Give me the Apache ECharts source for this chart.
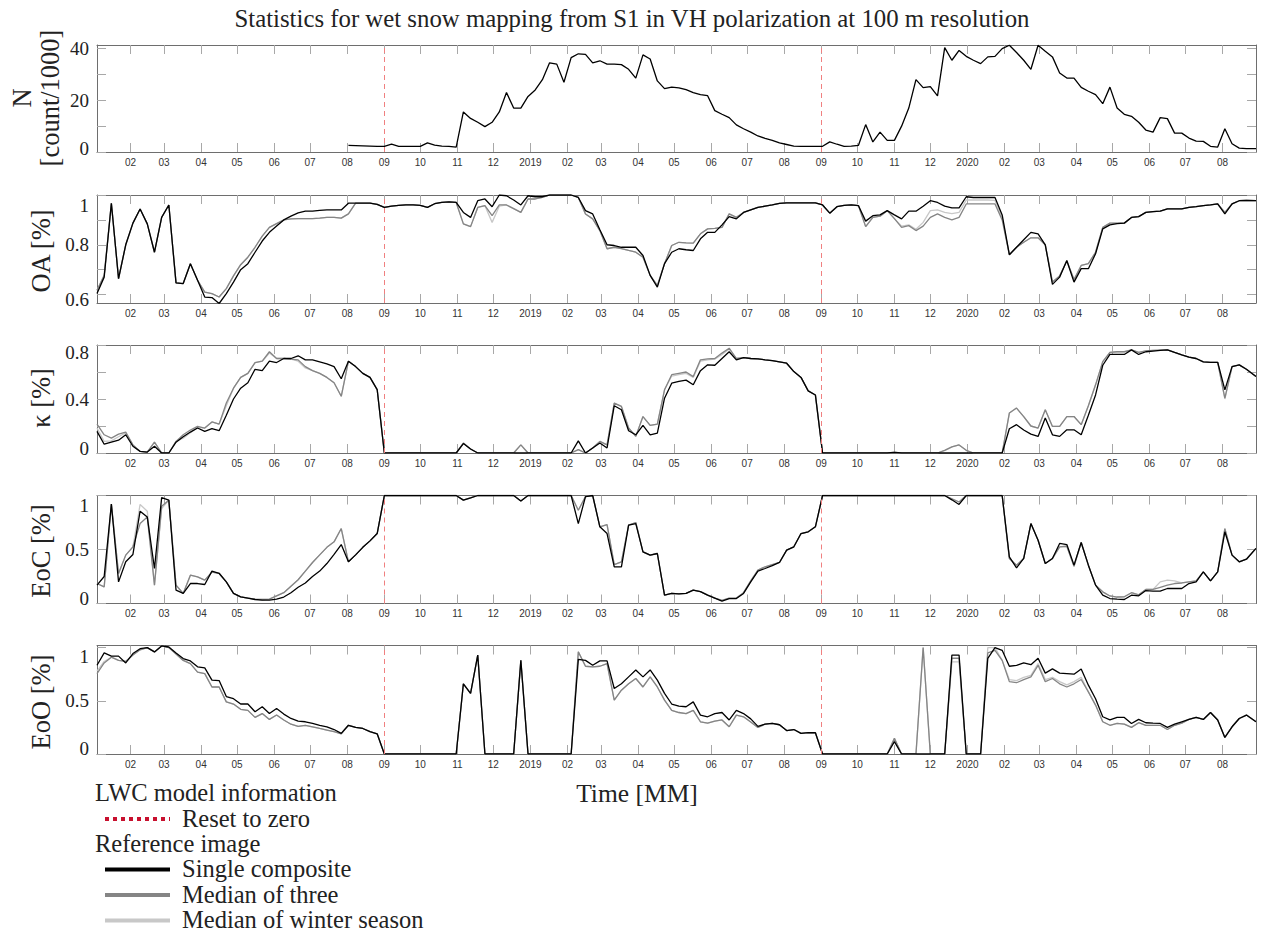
<!DOCTYPE html>
<html><head><meta charset="utf-8">
<script src="https://cdn.jsdelivr.net/npm/echarts@6/dist/echarts.min.js"></script>
<style>html,body{margin:0;padding:0;background:#fff}#c{width:1262px;height:934px}</style>
</head><body><div id="c"></div>
<script>
const dates = [
'2018-01-04','2018-01-10','2018-01-16','2018-01-22','2018-01-28','2018-02-03','2018-02-09','2018-02-15','2018-02-21','2018-02-27',
'2018-03-05','2018-03-11','2018-03-17','2018-03-23','2018-03-29','2018-04-04','2018-04-10','2018-04-16','2018-04-22','2018-04-28',
'2018-05-04','2018-05-10','2018-05-16','2018-05-22','2018-05-28','2018-06-03','2018-06-09','2018-06-15','2018-06-21','2018-06-27',
'2018-07-03','2018-07-09','2018-07-15','2018-07-21','2018-07-27','2018-08-02','2018-08-08','2018-08-14','2018-08-20','2018-08-26',
'2018-09-01','2018-09-07','2018-09-13','2018-09-19','2018-09-25','2018-10-01','2018-10-07','2018-10-13','2018-10-19','2018-10-25',
'2018-10-31','2018-11-06','2018-11-12','2018-11-18','2018-11-24','2018-11-30','2018-12-06','2018-12-12','2018-12-18','2018-12-24',
'2018-12-30','2019-01-05','2019-01-11','2019-01-17','2019-01-23','2019-01-29','2019-02-04','2019-02-10','2019-02-16','2019-02-22',
'2019-02-28','2019-03-06','2019-03-12','2019-03-18','2019-03-24','2019-03-30','2019-04-05','2019-04-11','2019-04-17','2019-04-23',
'2019-04-29','2019-05-05','2019-05-11','2019-05-17','2019-05-23','2019-05-29','2019-06-04','2019-06-10','2019-06-16','2019-06-22',
'2019-06-28','2019-07-04','2019-07-10','2019-07-16','2019-07-22','2019-07-28','2019-08-03','2019-08-09','2019-08-15','2019-08-21',
'2019-08-27','2019-09-02','2019-09-08','2019-09-14','2019-09-20','2019-09-26','2019-10-02','2019-10-08','2019-10-14','2019-10-20',
'2019-10-26','2019-11-01','2019-11-07','2019-11-13','2019-11-19','2019-11-25','2019-12-01','2019-12-07','2019-12-13','2019-12-19',
'2019-12-25','2019-12-31','2020-01-06','2020-01-12','2020-01-18','2020-01-24','2020-01-30','2020-02-05','2020-02-11','2020-02-17',
'2020-02-23','2020-02-29','2020-03-06','2020-03-12','2020-03-18','2020-03-24','2020-03-30','2020-04-05','2020-04-11','2020-04-17',
'2020-04-23','2020-04-29','2020-05-05','2020-05-11','2020-05-17','2020-05-23','2020-05-29','2020-06-04','2020-06-10','2020-06-16',
'2020-06-22','2020-06-28','2020-07-04','2020-07-10','2020-07-16','2020-07-22','2020-07-28','2020-08-03','2020-08-09','2020-08-15',
'2020-08-21','2020-08-29'];

const axisStart = '2018-01-04';
const axisEnd = '2020-08-29';
const monthTicks = [
'2018-02-01','2018-03-01','2018-04-01','2018-05-01','2018-06-01','2018-07-01','2018-08-01','2018-09-01','2018-10-01','2018-11-01','2018-12-01',
'2019-01-01','2019-02-01','2019-03-01','2019-04-01','2019-05-01','2019-06-01','2019-07-01','2019-08-01','2019-09-01','2019-10-01','2019-11-01','2019-12-01',
'2020-01-01','2020-02-01','2020-03-01','2020-04-01','2020-05-01','2020-06-01','2020-07-01','2020-08-01'];
const resetDates = ['2018-09-01','2019-09-01'];

const nCount = [
null,null,null,null,null,null,null,null,null,null,
null,null,null,null,null,null,null,null,null,null,
null,null,null,null,null,null,null,null,null,null,
null,null,null,null,null,2.6,2.5,2.4,2.3,2.2,
2.2,3.0,2.2,2.2,2.2,2.2,3.5,2.7,2.3,2.2,
1.9,15.5,13,11.5,9.8,11.5,15.5,23,17,17,
21.5,24,28,34.5,34,27,36.5,38,37.8,34.5,
35.3,34,34,33.8,32,28.6,37.6,36,27.5,24.5,
25.1,24.8,24.1,23,22.2,21.8,16,14.6,13.3,10.5,
9,7.7,6.2,5.3,4.5,3.5,2.9,2.3,2.2,2.2,
2.2,2.2,3.9,3.0,2.2,2.3,2.6,10.6,3.9,7.7,
4.5,4.5,10,17,28,24.9,25.3,21.7,40.4,35.5,
39.3,37,35.5,34.2,36.8,37,40,41.3,38.5,35.5,
32,41.3,39,36.8,30.6,28.6,28.6,25,23.5,22.2,
18.7,25.1,17,14.6,13.8,11.5,8.5,7.7,13.3,12.9,
7.3,7.3,5.4,4.2,4.1,2.2,1.9,9,3.2,1.5,
1.3,1.3];

const oaSingle = [
0.604,0.67,0.967,0.664,0.80,0.887,0.944,0.884,0.77,0.91,
0.96,0.647,0.644,0.724,0.657,0.59,0.588,0.564,0.604,0.65,
0.70,0.724,0.77,0.815,0.85,0.875,0.90,0.915,0.928,0.935,
0.935,0.938,0.94,0.94,0.94,0.967,0.967,0.967,0.967,0.962,
0.95,0.955,0.958,0.96,0.96,0.958,0.95,0.965,0.97,0.972,
0.97,0.93,0.91,0.977,0.984,0.953,1.0,0.997,0.98,0.96,
0.997,0.993,0.993,1.0,1.0,1.0,1.0,0.99,0.937,0.924,
0.86,0.80,0.797,0.79,0.79,0.79,0.757,0.677,0.63,0.724,
0.77,0.784,0.78,0.777,0.824,0.85,0.85,0.88,0.913,0.904,
0.93,0.94,0.95,0.955,0.96,0.966,0.968,0.968,0.968,0.968,
0.968,0.96,0.927,0.953,0.958,0.96,0.957,0.895,0.917,0.92,
0.937,0.92,0.904,0.935,0.935,0.955,0.977,0.97,0.955,0.948,
0.948,0.993,0.99,0.99,0.99,0.99,0.92,0.76,0.79,0.82,
0.85,0.844,0.80,0.641,0.67,0.737,0.65,0.704,0.704,0.764,
0.864,0.88,0.885,0.887,0.91,0.913,0.93,0.933,0.935,0.944,
0.944,0.944,0.95,0.953,0.957,0.96,0.964,0.924,0.964,0.977,
0.978,0.977];
const oaMedian3 = [
0.617,0.677,0.967,0.664,0.80,0.887,0.944,0.884,0.77,0.91,
0.96,0.647,0.644,0.724,0.657,0.61,0.604,0.59,0.624,0.675,
0.72,0.75,0.79,0.835,0.87,0.885,0.90,0.904,0.905,0.905,
0.905,0.907,0.91,0.91,0.907,0.924,0.967,0.967,0.967,0.962,
0.95,0.955,0.958,0.96,0.96,0.958,0.95,0.965,0.97,0.972,
0.97,0.884,0.873,0.95,0.957,0.917,0.96,0.96,0.945,0.93,
0.984,0.984,0.99,1.0,1.0,1.0,1.0,0.99,0.924,0.904,
0.857,0.784,0.79,0.785,0.777,0.77,0.75,0.677,0.637,0.724,
0.797,0.81,0.808,0.807,0.844,0.864,0.866,0.87,0.924,0.91,
0.93,0.94,0.95,0.955,0.96,0.966,0.968,0.968,0.968,0.968,
0.968,0.96,0.927,0.953,0.958,0.96,0.957,0.873,0.91,0.915,
0.937,0.905,0.87,0.877,0.857,0.875,0.91,0.924,0.91,0.90,
0.91,0.964,0.964,0.964,0.964,0.964,0.90,0.76,0.79,0.81,
0.828,0.828,0.80,0.65,0.675,0.735,0.66,0.717,0.724,0.77,
0.87,0.887,0.887,0.887,0.91,0.913,0.93,0.933,0.935,0.944,
0.944,0.944,0.95,0.953,0.957,0.96,0.964,0.93,0.964,0.977,
0.978,0.977];
const oaWinter = [
0.617,0.677,0.967,0.664,0.80,0.887,0.944,0.884,0.77,0.91,
0.96,0.647,0.644,0.724,0.657,0.61,0.604,0.59,0.624,0.675,
0.72,0.75,0.79,0.835,0.87,0.885,0.90,0.904,0.905,0.905,
0.905,0.907,0.91,0.91,0.907,0.924,0.967,0.967,0.967,0.962,
0.95,0.955,0.958,0.96,0.96,0.958,0.95,0.965,0.97,0.972,
0.97,0.884,0.873,0.95,0.957,0.89,0.955,0.96,0.945,0.93,
0.984,0.984,0.99,1.0,1.0,1.0,1.0,0.99,0.924,0.904,
0.857,0.784,0.79,0.785,0.777,0.77,0.75,0.677,0.637,0.724,
0.797,0.81,0.808,0.807,0.844,0.864,0.866,0.87,0.924,0.91,
0.93,0.94,0.95,0.955,0.96,0.966,0.968,0.968,0.968,0.968,
0.968,0.96,0.927,0.953,0.958,0.96,0.957,0.873,0.91,0.915,
0.937,0.905,0.875,0.88,0.862,0.89,0.937,0.94,0.93,0.925,
0.93,0.98,0.98,0.98,0.98,0.978,0.91,0.76,0.79,0.81,
0.828,0.828,0.80,0.65,0.675,0.735,0.66,0.717,0.724,0.77,
0.87,0.887,0.887,0.887,0.91,0.913,0.93,0.933,0.935,0.944,
0.944,0.944,0.95,0.953,0.957,0.96,0.964,0.93,0.964,0.977,
0.978,0.977];

const kSingle = [
0.16,0.065,0.08,0.095,0.135,0.05,0.012,0.007,0.05,0,
0,0.08,0.12,0.155,0.185,0.16,0.18,0.165,0.28,0.40,
0.48,0.52,0.62,0.61,0.68,0.67,0.70,0.70,0.72,0.69,
0.69,0.675,0.66,0.64,0.55,0.68,0.64,0.59,0.56,0.47,
0,0,0,0,0,0,0,0,0,0,
0,0.07,0.03,0,0,0,0,0,0,0,
0,0,0,0,0,0,0,0.09,0,0.037,
0.074,0.037,0.35,0.32,0.165,0.135,0.204,0.135,0.148,0.406,
0.517,0.53,0.54,0.505,0.61,0.653,0.65,0.70,0.75,0.69,
0.707,0.70,0.697,0.69,0.685,0.675,0.665,0.603,0.56,0.46,
0.43,0,0,0,0,0,0,0,0,0,
0,0.005,0,0,0,0,0,0,0,0,
0,0,0,0,0,0,0,0.18,0.21,0.17,
0.14,0.123,0.26,0.135,0.123,0.172,0.172,0.135,0.28,0.43,
0.65,0.73,0.73,0.73,0.764,0.73,0.75,0.755,0.76,0.764,
0.745,0.727,0.71,0.70,0.675,0.672,0.672,0.468,0.64,0.653,
0.62,0.567];
const kMedian3 = [
0.214,0.135,0.11,0.14,0.155,0.06,0.012,0.007,0.08,0,
0,0.086,0.135,0.17,0.197,0.185,0.23,0.214,0.37,0.48,
0.56,0.59,0.67,0.68,0.75,0.70,0.70,0.695,0.69,0.64,
0.61,0.59,0.56,0.52,0.42,0.68,0.64,0.59,0.56,0.47,
0,0,0,0,0,0,0,0,0,0,
0,0.074,0.03,0,0,0,0,0,0,0.06,
0,0,0,0,0,0,0,0.025,0,0.037,
0.086,0.06,0.37,0.345,0.185,0.123,0.27,0.204,0.214,0.468,
0.58,0.59,0.60,0.566,0.69,0.697,0.70,0.74,0.776,0.70,
0.707,0.70,0.697,0.69,0.685,0.675,0.665,0.603,0.56,0.46,
0.43,0,0,0,0,0,0,0,0,0,
0,0.005,0,0,0,0,0,0,0.02,0.045,
0.06,0.02,0,0,0,0,0,0.296,0.333,0.27,
0.2,0.185,0.32,0.197,0.197,0.27,0.27,0.21,0.35,0.505,
0.677,0.746,0.75,0.75,0.764,0.746,0.756,0.76,0.762,0.764,
0.745,0.727,0.71,0.70,0.675,0.672,0.672,0.406,0.64,0.653,
0.62,0.567];
const kWinter = [
0.185,0.086,0.09,0.12,0.15,0.06,0.012,0.007,0.08,0,
0,0.086,0.11,0.15,0.19,0.185,0.23,0.214,0.35,0.48,
0.56,0.59,0.67,0.68,0.74,0.70,0.70,0.695,0.68,0.63,
0.61,0.59,0.56,0.52,0.42,0.68,0.64,0.59,0.56,0.47,
0,0,0,0,0,0,0,0,0,0,
0,0.074,0.03,0,0,0,0,0,0,0.06,
0,0,0,0,0,0,0,0.025,0,0.037,
0.086,0.06,0.37,0.345,0.185,0.123,0.27,0.204,0.214,0.468,
0.57,0.58,0.59,0.56,0.68,0.69,0.695,0.73,0.77,0.70,
0.707,0.70,0.697,0.69,0.685,0.675,0.665,0.603,0.56,0.46,
0.43,0,0,0,0,0,0,0,0,0,
0,0.005,0,0,0,0,0,0,0.02,0.045,
0.06,0.02,0,0,0,0,0,0.296,0.333,0.27,
0.2,0.185,0.32,0.197,0.197,0.27,0.27,0.21,0.35,0.505,
0.677,0.746,0.75,0.75,0.764,0.746,0.756,0.76,0.762,0.764,
0.745,0.727,0.71,0.70,0.675,0.672,0.672,0.40,0.64,0.653,
0.62,0.567];

const eocSingle = [
0.17,0.25,0.92,0.2,0.386,0.454,0.855,0.80,0.324,0.98,
0.957,0.123,0.093,0.185,0.185,0.176,0.30,0.28,0.20,0.093,
0.062,0.05,0.037,0.031,0.031,0.04,0.06,0.10,0.15,0.19,
0.25,0.30,0.37,0.454,0.546,0.386,0.45,0.52,0.58,0.648,
1,1,1,1,1,1,1,1,1,1,
1,0.957,0.978,1,1,1,1,1,1,0.95,
1,1,1,1,1,1,1,0.74,0.99,1,
0.71,0.648,0.34,0.34,0.725,0.74,0.478,0.448,0.463,0.077,
0.093,0.09,0.093,0.123,0.11,0.077,0.05,0.022,0.046,0.046,
0.093,0.2,0.3,0.324,0.35,0.38,0.494,0.525,0.648,0.664,
0.71,1,1,1,1,1,1,1,1,1,
1,1,1,1,1,1,1,1,1,0.96,
0.917,1,1,1,1,1,1,0.432,0.33,0.417,
0.74,0.586,0.37,0.417,0.556,0.546,0.355,0.565,0.355,0.17,
0.077,0.046,0.04,0.037,0.077,0.071,0.12,0.115,0.114,0.139,
0.139,0.139,0.185,0.2,0.293,0.21,0.293,0.664,0.448,0.386,
0.41,0.51];
const eocMedian3 = [
0.185,0.154,0.92,0.278,0.448,0.525,0.74,0.80,0.17,0.90,
0.957,0.17,0.093,0.262,0.247,0.216,0.29,0.278,0.20,0.093,
0.062,0.05,0.04,0.037,0.04,0.07,0.10,0.16,0.22,0.30,
0.38,0.45,0.52,0.571,0.694,0.386,0.45,0.52,0.58,0.648,
1,1,1,1,1,1,1,1,1,1,
1,0.957,0.978,1,1,1,1,1,1,0.95,
1,1,1,1,1,1,1,0.864,0.99,1,
0.71,0.73,0.36,0.386,0.725,0.75,0.478,0.448,0.463,0.077,
0.093,0.09,0.093,0.123,0.11,0.077,0.05,0.03,0.05,0.05,
0.1,0.21,0.31,0.34,0.36,0.38,0.494,0.525,0.648,0.664,
0.71,1,1,1,1,1,1,1,1,1,
1,1,1,1,1,1,1,1,1,0.97,
0.94,1,1,1,1,1,1,0.417,0.355,0.417,
0.74,0.586,0.37,0.417,0.525,0.53,0.345,0.565,0.355,0.17,
0.108,0.07,0.06,0.062,0.1,0.08,0.13,0.13,0.15,0.17,
0.185,0.19,0.2,0.21,0.293,0.21,0.293,0.694,0.448,0.386,
0.41,0.51];
const eocWinter = [
0.185,0.154,0.92,0.278,0.448,0.525,0.917,0.855,0.17,0.88,
0.957,0.17,0.093,0.262,0.247,0.216,0.29,0.278,0.20,0.093,
0.062,0.05,0.04,0.037,0.04,0.07,0.10,0.16,0.22,0.30,
0.38,0.45,0.52,0.571,0.694,0.386,0.45,0.52,0.58,0.648,
1,1,1,1,1,1,1,1,1,1,
1,0.957,0.978,1,1,1,1,1,1,0.95,
1,1,1,1,1,1,1,0.864,0.99,1,
0.71,0.73,0.36,0.386,0.725,0.75,0.478,0.448,0.463,0.077,
0.093,0.09,0.093,0.123,0.11,0.077,0.05,0.03,0.05,0.05,
0.1,0.21,0.31,0.34,0.36,0.38,0.494,0.525,0.648,0.664,
0.71,1,1,1,1,1,1,1,1,1,
1,1,1,1,1,1,1,1,1,0.97,
0.94,1,1,1,1,1,1,0.417,0.355,0.417,
0.74,0.586,0.37,0.417,0.525,0.53,0.345,0.565,0.355,0.17,
0.108,0.07,0.06,0.062,0.1,0.08,0.13,0.13,0.2,0.216,
0.21,0.19,0.2,0.21,0.293,0.21,0.293,0.694,0.448,0.386,
0.41,0.51];

const eooSingle = [
0.834,0.95,0.92,0.92,0.856,0.944,0.99,1.0,0.96,1.016,
1.006,0.95,0.897,0.875,0.82,0.81,0.694,0.69,0.54,0.52,
0.47,0.47,0.397,0.444,0.38,0.428,0.375,0.334,0.31,0.303,
0.287,0.27,0.256,0.23,0.194,0.27,0.25,0.24,0.21,0.19,
0,0,0,0,0,0,0,0,0,0,
0,0.66,0.57,0.93,0,0,0,0,0,0.88,
0,0,0,0,0,0,0,0.89,0.88,0.834,
0.875,0.875,0.616,0.66,0.725,0.79,0.725,0.79,0.694,0.57,
0.47,0.45,0.444,0.49,0.366,0.35,0.38,0.39,0.32,0.41,
0.38,0.33,0.26,0.28,0.287,0.275,0.22,0.23,0.194,0.2,
0.2,0,0,0,0,0,0,0,0,0,
0,0.116,0,0,0,0,0,0,0,0.93,
0.93,0,0,0,0.9,1.0,0.975,0.825,0.834,0.856,
0.84,0.9,0.76,0.8,0.76,0.756,0.75,0.8,0.647,0.52,
0.35,0.32,0.344,0.344,0.287,0.325,0.294,0.29,0.287,0.25,
0.28,0.303,0.325,0.344,0.325,0.39,0.32,0.156,0.256,0.334,
0.366,0.303];
const eooMedian3 = [
0.756,0.856,0.91,0.88,0.87,0.93,0.98,1.0,0.96,1.016,
1.0,0.94,0.88,0.85,0.77,0.756,0.63,0.63,0.49,0.47,
0.42,0.41,0.344,0.38,0.325,0.366,0.32,0.28,0.26,0.27,
0.256,0.24,0.225,0.21,0.19,0.27,0.25,0.24,0.21,0.19,
0,0,0,0,0,0,0,0,0,0,
0,0.66,0.57,0.93,0,0,0,0,0,0.88,
0,0,0,0,0,0,0,0.96,0.825,0.82,
0.825,0.85,0.506,0.6,0.66,0.71,0.63,0.725,0.63,0.506,
0.41,0.39,0.38,0.41,0.303,0.29,0.31,0.32,0.256,0.366,
0.35,0.30,0.25,0.28,0.287,0.275,0.22,0.23,0.194,0.2,
0.2,0,0,0,0,0,0,0,0,0,
0,0.147,0,0,0,1.0,0,0,0,0.9,
0.9,0,0,0,0.95,0.975,0.88,0.68,0.67,0.7,
0.725,0.834,0.68,0.71,0.66,0.63,0.66,0.7,0.584,0.46,
0.303,0.27,0.287,0.28,0.25,0.294,0.27,0.27,0.27,0.23,
0.27,0.29,0.325,0.344,0.325,0.39,0.32,0.156,0.256,0.334,
0.366,0.303];
const eooWinter = [
0.78,0.87,0.91,0.88,0.87,0.93,0.98,1.0,0.96,1.016,
1.0,0.94,0.88,0.85,0.77,0.756,0.63,0.63,0.49,0.47,
0.42,0.41,0.344,0.38,0.325,0.366,0.32,0.28,0.26,0.27,
0.256,0.24,0.225,0.21,0.19,0.27,0.25,0.24,0.21,0.19,
0,0,0,0,0,0,0,0,0,0,
0,0.66,0.57,0.93,0,0,0,0,0,0.88,
0,0,0,0,0,0,0,0.96,0.825,0.82,
0.825,0.85,0.506,0.6,0.66,0.71,0.63,0.725,0.63,0.506,
0.41,0.39,0.38,0.41,0.303,0.29,0.31,0.32,0.256,0.366,
0.35,0.30,0.25,0.28,0.287,0.275,0.22,0.23,0.194,0.2,
0.2,0,0,0,0,0,0,0,0,0,
0,0.147,0,0,0,1.0,0,0,0,0.866,
0.866,0,0,0,1.0,1.0,0.88,0.70,0.69,0.72,
0.74,0.85,0.70,0.72,0.68,0.65,0.68,0.72,0.584,0.46,
0.303,0.27,0.287,0.28,0.25,0.294,0.27,0.27,0.27,0.23,
0.27,0.29,0.325,0.344,0.325,0.39,0.32,0.156,0.256,0.334,
0.366,0.303];

const yTicksN = [0,10,20,30,40], yLabelsN = [0,20,40];
const yTicksOA = [0.6,0.7,0.8,0.9,1], yLabelsOA = [0.6,0.8,1];
const yTicksK = [0,0.2,0.4,0.6,0.8], yLabelsK = [0,0.4,0.8];
const yTicksE = [0,0.5,1], yLabelsE = [0,0.5,1];

const seriesNames = ['Median of winter season','Median of three','Single composite'];
const seriesColors = ['#c8c8c8','#858585','#000000'];

const panels = [
  {title:'N\n[count/1000]', min:0, max:41.4, ticks:yTicksN, labels:yLabelsN, data:[nCount], top:45, height:107, nameX:36, nameY:98,
   lo:{align:'bottom', lh:8}, hi:{align:'middle', lh:19}},
  {title:'OA [%]', min:0.566, max:1.0, ticks:yTicksOA, labels:yLabelsOA, data:[oaWinter,oaMedian3,oaSingle], top:195, height:108, nameX:41, nameY:251,
   lo:{align:'top', lh:10}, hi:{align:'top', lh:20}},
  {title:'\u03ba [%]', min:0, max:0.8, ticks:yTicksK, labels:yLabelsK, data:[kWinter,kMedian3,kSingle], top:345, height:108, nameX:41, nameY:398,
   lo:{align:'bottom', lh:10}, hi:{align:'top', lh:14}},
  {title:'EoC [%]', min:0, max:1.0, ticks:yTicksE, labels:yLabelsE, data:[eocWinter,eocMedian3,eocSingle], top:495.5, height:108, nameX:41, nameY:551,
   lo:{align:'bottom', lh:10}, hi:{align:'top', lh:20}},
  {title:'EoO [%]', min:0, max:1.02, ticks:yTicksE, labels:yLabelsE, data:[eooWinter,eooMedian3,eooSingle], top:645.5, height:108.5, nameX:41, nameY:702,
   lo:{align:'bottom', lh:12}, hi:{align:'top', lh:18}}
];

const ts = d => Date.parse(d);
const tickTs = monthTicks.map(ts);
const xMin = ts(axisStart), xMax = ts(axisEnd);
const fmtMonth = v => { const d = new Date(v); const m = d.getUTCMonth(); return m === 0 ? String(d.getUTCFullYear()) : String(m + 1).padStart(2, '0'); };

const SERIF = '"Liberation Serif","Times New Roman",serif';
const BORDER = '#6e6e6e', TICK = '#a8a8a8';
const labFont = {fontSize: 19, fontFamily: SERIF, color: '#222'};

const grid = [], xAxis = [], yAxis = [], series = [], graphic = [];
panels.forEach((p, i) => {
  grid.push({left: 97, right: 6, top: p.top, height: p.height, show: false});
  const xBase = {gridIndex: i, type: 'value', min: xMin, max: xMax, splitLine: {show: false},
    axisLine: {show: true, onZero: false, lineStyle: {color: BORDER, width: 1}},
    axisTick: {show: true, inside: true, length: 9, customValues: tickTs, lineStyle: {color: TICK, width: 1}}};
  xAxis.push(Object.assign({}, xBase, {position: 'bottom',
    axisLabel: {show: true, customValues: tickTs, formatter: fmtMonth, fontSize: 10, color: '#333', fontFamily: '"Liberation Sans",Arial,sans-serif', margin: 5}}));
  xAxis.push(Object.assign({}, xBase, {position: 'top', axisLabel: {show: false}}));
  const yBase = {gridIndex: i, type: 'value', min: p.min, max: p.max, splitLine: {show: false},
    axisLine: {show: true, onZero: false, lineStyle: {color: BORDER, width: 1}},
    axisTick: {show: true, inside: true, length: 9, customValues: p.ticks, lineStyle: {color: TICK, width: 1}}};
  const firstL = p.labels[0], lastL = p.labels[p.labels.length - 1];
  yAxis.push(Object.assign({}, yBase, {position: 'left',
    axisLabel: Object.assign({show: true, customValues: p.labels, margin: 8,
      formatter: v => (v === firstL ? '{lo|' : v === lastL ? '{hi|' : '{md|') + String(v) + '}',
      rich: {lo: Object.assign({lineHeight: p.lo.lh}, labFont), hi: Object.assign({lineHeight: p.hi.lh}, labFont), md: Object.assign({lineHeight: 19}, labFont)},
      verticalAlignMinLabel: p.lo.align, verticalAlignMaxLabel: p.hi.align}, labFont)}));
  yAxis.push(Object.assign({}, yBase, {position: 'right', axisLabel: {show: false}}));

  const offset = 3 - p.data.length;
  p.data.forEach((arr, k) => {
    const idx = k + offset;
    const s = {
      type: 'line', name: seriesNames[idx], xAxisIndex: 2 * i, yAxisIndex: 2 * i,
      data: dates.map((d, j) => [ts(d), arr[j]]),
      showSymbol: false, symbol: 'none', connectNulls: false, animation: false,
      lineStyle: {color: seriesColors[idx], width: 1.3}, z: 2 + idx
    };
    if (k === p.data.length - 1) {
      s.markLine = {silent: true, symbol: ['none', 'none'], animation: false, label: {show: false},
        lineStyle: {color: '#f08080', type: [5, 4], width: 1},
        data: resetDates.map(d => ({xAxis: ts(d)}))};
    }
    series.push(s);
  });

  graphic.push({type: 'text', x: p.nameX, y: p.nameY, rotation: Math.PI / 2,
    style: {text: p.title, font: '26.5px ' + SERIF, fill: '#222', align: 'center', verticalAlign: 'middle', textAlign: 'center', textVerticalAlign: 'middle', lineHeight: 28}});
});

graphic.push({type: 'text', x: 632, y: 18, style: {text: 'Statistics for wet snow mapping from S1 in VH polarization at 100 m resolution', font: '24.8px ' + SERIF, fill: '#222', align: 'center', verticalAlign: 'middle', textAlign: 'center', textVerticalAlign: 'middle'}});
graphic.push({type: 'text', x: 637, y: 793, style: {text: 'Time [MM]', font: '25.5px ' + SERIF, fill: '#222', align: 'center', verticalAlign: 'middle', textAlign: 'center', textVerticalAlign: 'middle'}});

const legendRows = [
  {text: 'LWC model information', x: 95, y: 792},
  {text: 'Reset to zero', x: 182, y: 818},
  {text: 'Reference image', x: 95, y: 843.5},
  {text: 'Single composite', x: 182, y: 868.5},
  {text: 'Median of three', x: 182, y: 894},
  {text: 'Median of winter season', x: 182, y: 919.5}
];
const legendLines = [
  null, {color: '#c8102e', dash: [4, 4]}, null,
  {color: seriesColors[2]}, {color: seriesColors[1]}, {color: seriesColors[0]}
];
legendRows.forEach((r, k) => {
  graphic.push({type: 'text', x: r.x, y: r.y, style: {text: r.text, font: '24.5px ' + SERIF, fill: '#222', lineHeight: 22, align: 'left', verticalAlign: 'middle', textAlign: 'left', textVerticalAlign: 'middle'}});
  const ln = legendLines[k];
  if (ln) {
    graphic.push({type: 'line', shape: {x1: 105, y1: r.y + 1, x2: 170, y2: r.y + 1},
      style: {stroke: ln.color, lineWidth: 4, lineDash: ln.dash || null}});
  }
});

const chart = echarts.init(document.getElementById('c'), null, {renderer: 'svg'});
chart.setOption({animation: false, backgroundColor: '#fff', grid, xAxis, yAxis, series, graphic});
</script>
</body></html>
